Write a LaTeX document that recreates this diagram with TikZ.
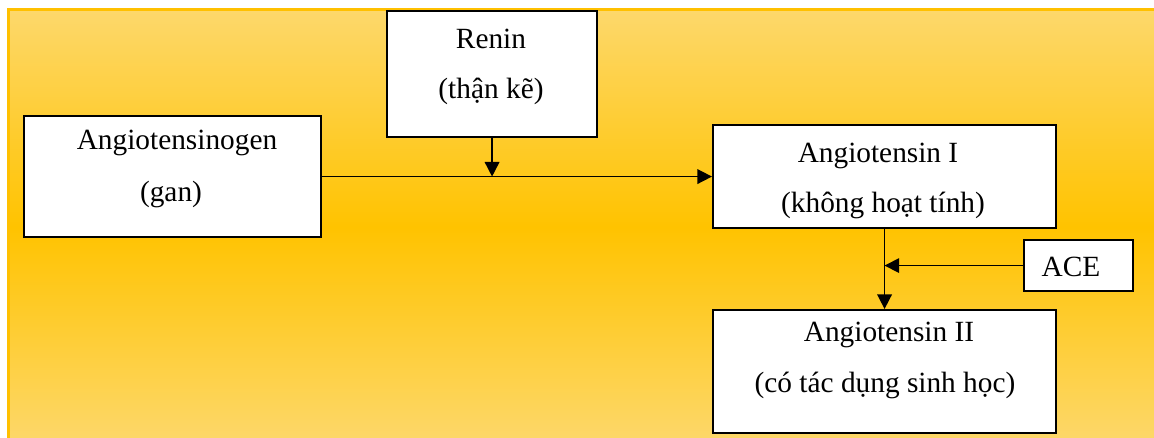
\documentclass[tikz,border=0pt]{standalone}
\usepackage{fontspec}
\setmainfont{Liberation Serif}
\usetikzlibrary{arrows.meta,calc}
\definecolor{goldline}{HTML}{FFC000}
\definecolor{goldlight}{HTML}{FDD86C}
\definecolor{goldmid}{HTML}{FFC300}
\begin{document}
\begin{tikzpicture}[x=0.75pt,y=-0.75pt,
  box/.style={draw=black,line width=1.6pt,fill=white,inner sep=0pt,anchor=north west},
  lbl/.style={anchor=base,inner sep=0pt,font=\fontsize{22}{26}\selectfont},
  flow/.style={line width=1.2pt,-{Triangle[length=11pt,width=11pt]}}]
\useasboundingbox (0,0) rectangle (1154,437);
\begin{scope}
  \clip (0,0) rectangle (1154,437);
  % gold panel with a vertical gradient and a border on its visible edges
  \shade[top color=goldlight,bottom color=goldlight,middle color=goldmid]
    (7,8) rectangle (1170,446);
  \draw[goldline,line width=2.25pt] (8.5,9.5) rectangle (1170,450);
\end{scope}

% boxes
\node[box,minimum width=222.75pt,minimum height=90.75pt] (ag)    at (23,115)  {};
\node[box,minimum width=157.5pt, minimum height=94.5pt]  (renin) at (386,10)  {};
\node[box,minimum width=257.25pt,minimum height=77.25pt] (a1)    at (712,124) {};
\node[box,minimum width=81.75pt, minimum height=38.25pt] (ace)   at (1023,239) {};
\node[box,minimum width=257.25pt,minimum height=92.25pt] (a2)    at (712,309) {};

% labels
\node[lbl] (ag1) at (177,149.5) {Angiotensinogen};
\node[lbl] (ag2) at (171,201.5) {(gan)};
\node[lbl] (re1) at (491,48) {Renin};
\node[lbl] (re2) at (491,98) {(thận kẽ)};
\node[lbl] (a11) at (878,162) {Angiotensin I};
\node[lbl] (a12) at (883,212) {(không hoạt tính)};
\node[lbl] (ace1) at (1071,276) {ACE};
\node[lbl] (a21) at (889,341.5) {Angiotensin II};
\node[lbl] (a22) at (885,392) {(có tác dụng sinh học)};

% connectors
\draw[flow] (ag.east) -- (a1.west);
\draw[flow] (renin.south) -- (renin.south |- ag.east);
\draw[flow] (a1.south) -- (a2.north);
\draw[flow] (ace.west) -- (a1.south |- ace.west);
\end{tikzpicture}
\end{document}
